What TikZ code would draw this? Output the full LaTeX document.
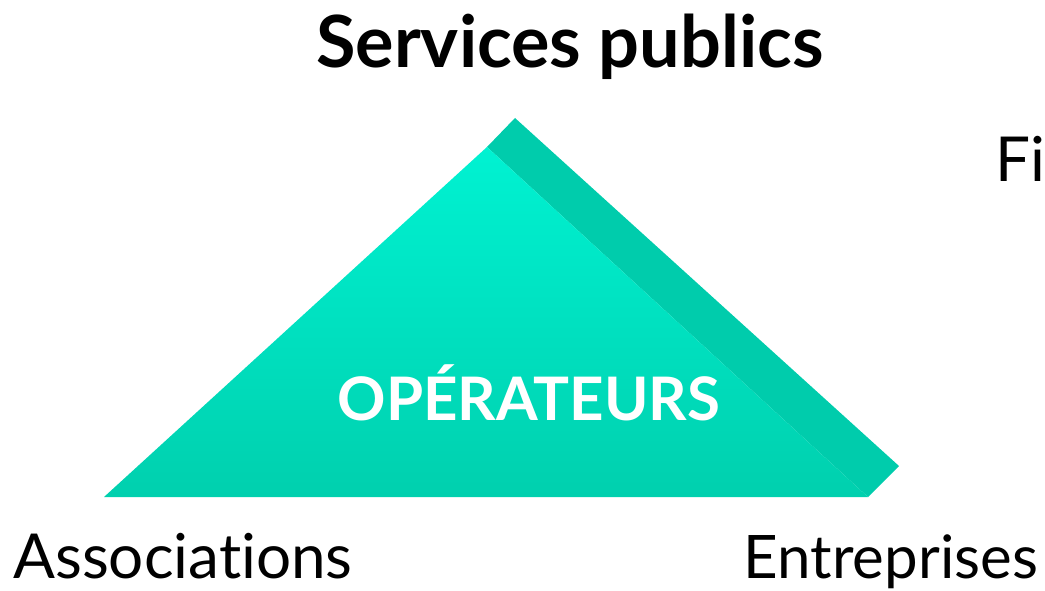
\documentclass[tikz,border=0pt]{standalone}
\usepackage{fontspec}
\setmainfont{Lato}[Ligatures={NoCommon,NoRare}]
\definecolor{topcyan}{RGB}{0,242,210}
\definecolor{botcyan}{RGB}{0,208,174}
\definecolor{sidecyan}{RGB}{0,204,172}
\tikzset{
  bigtext/.style={font=\fontsize{62}{70}\selectfont,anchor=base,inner sep=0pt},
}
\begin{document}
\begin{tikzpicture}[x=1pt,y=-1pt]
        \useasboundingbox (0,0) rectangle (1045,591) ;
        % corners of the prism
        \coordinate (left) at (104,497) ;
        \coordinate (right) at (868,497) ;
        \coordinate (tip) at (899,466) ;
        \coordinate (apex) at (515,118) ;
        \coordinate (ridge) at (487,147) ;
        \fill[sidecyan] (ridge) -- (apex) -- (tip) -- (right) -- cycle ;
        \shade[top color=topcyan,bottom color=botcyan]
          (left) -- (ridge) -- (right) -- cycle ;
        \node[font=\bfseries\fontsize{60}{64}\selectfont,text=white,anchor=base]
          (oper) at (529,420) {OPÉRATEURS} ;
        % labels round the prism
        \node[font=\bfseries\fontsize{72}{80}\selectfont,anchor=base]
          (serv) at (570,68) {Services publics} ;
        \node[bigtext] (assoc) at (183,578) {Associations} ;
        \node[bigtext,font=\fontsize{60}{68}\selectfont] (entr) at (891,578) {Entreprises} ;
        \node[bigtext,anchor=base west] (fin) at (995,182) {Fi} ;
      \end{tikzpicture}
\end{document}
